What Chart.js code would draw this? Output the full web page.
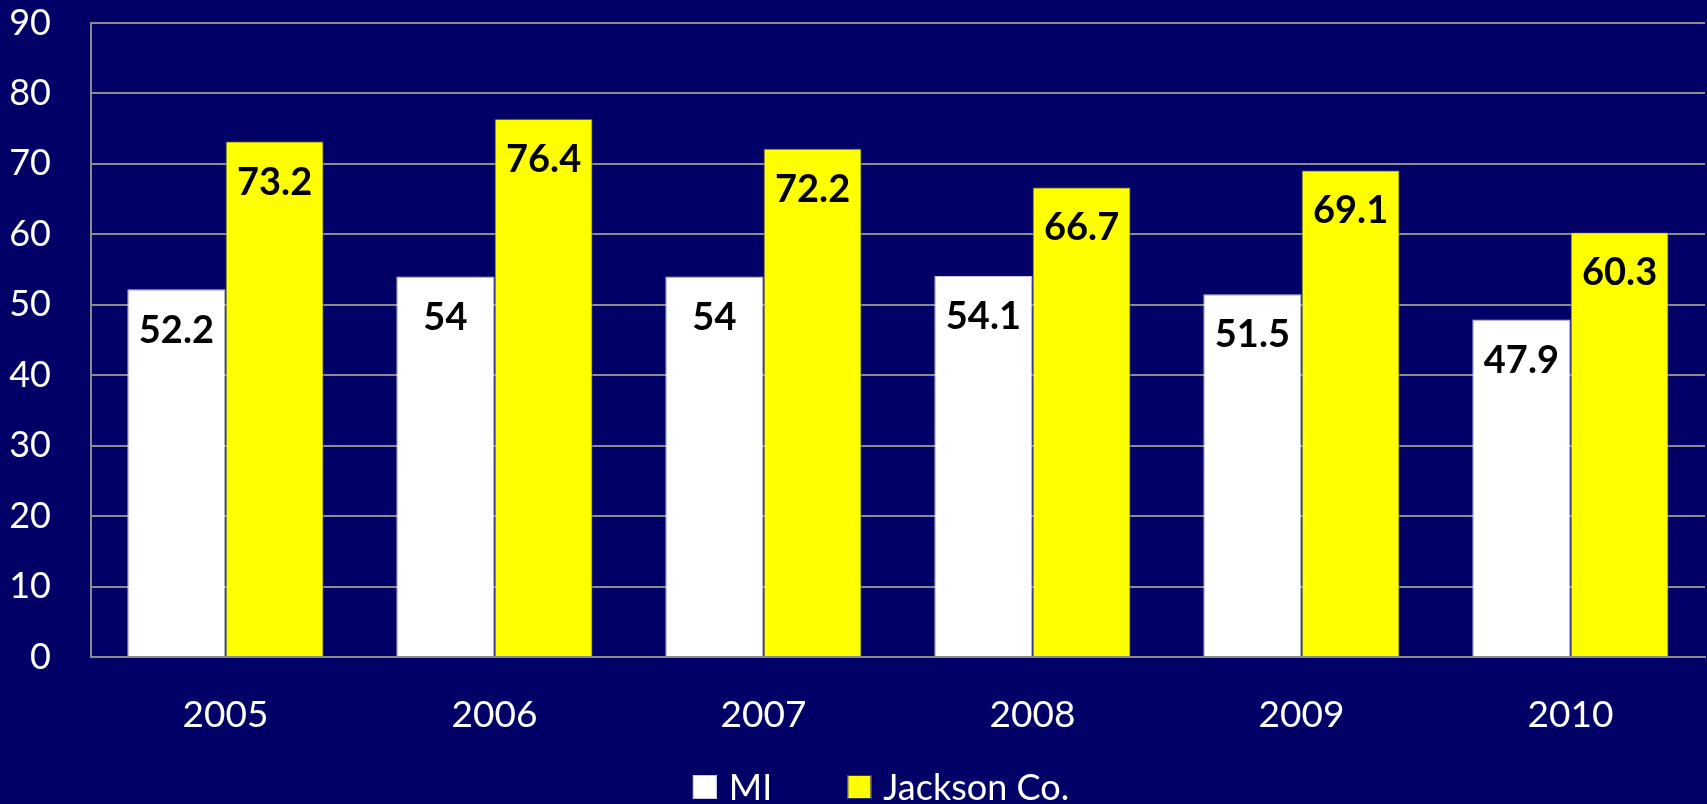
<!DOCTYPE html>
<html>
<head>
<meta charset="utf-8">
<script src="https://cdn.jsdelivr.net/npm/chart.js@4/dist/chart.umd.min.js"></script>
<style>
  html, body { margin: 0; padding: 0; background: #000066; }
  #wrap { width: 1707px; height: 804px; }
</style>
</head>
<body>
<div id="wrap"><canvas id="c" width="1707" height="804"></canvas></div>
<script>
// data
const years = ['2005', '2006', '2007', '2008', '2009', '2010'];
const miValues = [52.2, 54, 54, 54.1, 51.5, 47.9];
const jacksonValues = [73.2, 76.4, 72.2, 66.7, 69.1, 60.3];
const yTicks = [0, 10, 20, 30, 40, 50, 60, 70, 80, 90];

const FONT = "Lato, 'Open Sans', 'DejaVu Sans', sans-serif";
const GRID = '#8c8c8c';

Chart.defaults.font.family = FONT;

// value labels written inside the top of each bar
const barValues = {
  id: 'barValues',
  afterDatasetsDraw(chart) {
    const ctx = chart.ctx;
    ctx.save();
    ctx.font = `bold 38px ${FONT}`;
    ctx.fillStyle = '#000000';
    ctx.textAlign = 'center';
    ctx.textBaseline = 'middle';
    chart.data.datasets.forEach((ds, i) => {
      chart.getDatasetMeta(i).data.forEach((bar, j) => {
        ctx.fillText(String(ds.data[j]), bar.x, bar.y + 41);
      });
    });
    ctx.restore();
  },
};

// legend row under the axis: square swatch + name, wide gap between entries
const bottomLegend = {
  id: 'bottomLegend',
  afterDraw(chart) {
    const ctx = chart.ctx;
    const box = 24, gap = 12, spacing = 75;
    const y = 787;
    ctx.save();
    ctx.font = `36px ${FONT}`;
    ctx.textBaseline = 'middle';
    const items = chart.data.datasets.map((ds) => ({
      ds, w: box + gap + ctx.measureText(ds.label).width,
    }));
    const total = items.reduce((s, it) => s + it.w, 0) + spacing * (items.length - 1);
    const mid = (chart.chartArea.left + chart.chartArea.right) / 2 - 17;
    let x = mid - total / 2;
    items.forEach(({ ds, w }) => {
      ctx.fillStyle = ds.backgroundColor;
      ctx.fillRect(x, y - box / 2, box, box);
      ctx.strokeStyle = ds.borderColor;
      ctx.lineWidth = 1;
      ctx.strokeRect(x + 0.5, y - box / 2 + 0.5, box - 1, box - 1);
      ctx.fillStyle = '#ffffff';
      ctx.fillText(ds.label, x + box + gap, y + 1);
      x += w + spacing;
    });
    ctx.restore();
  },
};

new Chart(document.getElementById('c'), {
  type: 'bar',
  data: {
    labels: years,
    datasets: [
      { label: 'MI', data: miValues, backgroundColor: '#ffffff', borderColor: '#c8c8e6', borderWidth: 1 },
      { label: 'Jackson Co.', data: jacksonValues, backgroundColor: '#ffff00', borderColor: '#2a3580', borderWidth: 1 },
    ],
  },
  options: {
    responsive: false,
    animation: false,
    devicePixelRatio: 1,
    layout: { padding: { top: 23, right: 2, left: 0, bottom: 46 } },
    datasets: { bar: { categoryPercentage: 0.73, barPercentage: 1.0 } },
    plugins: {
      legend: { display: false },
      tooltip: { enabled: false },
    },
    scales: {
      x: {
        grid: { display: false, drawTicks: false },
        border: { display: true, color: GRID, width: 2 },
        ticks: { color: '#ffffff', font: { size: 37 }, padding: 36 },
        afterFit(axis) { axis.height = 101; },
      },
      y: {
        min: 0,
        max: 90,
        afterBuildTicks(axis) { axis.ticks = yTicks.map((v) => ({ value: v })); },
        grid: { color: GRID, lineWidth: 2, drawTicks: false },
        border: { display: true, color: GRID, width: 2 },
        ticks: { color: '#ffffff', font: { size: 36 }, padding: 40 },
        afterFit(axis) {
          axis.width = 91;
          axis.paddingTop = 18;
          axis.paddingBottom = 18;
        },
      },
    },
  },
  plugins: [barValues, bottomLegend],
});
</script>
</body>
</html>
